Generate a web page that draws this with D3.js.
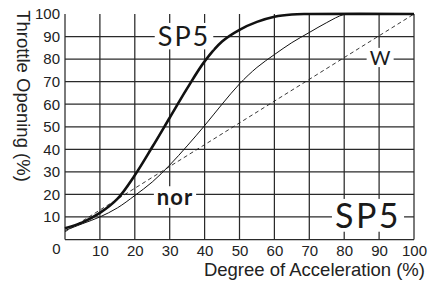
<!DOCTYPE html>
<html><head><meta charset="utf-8">
<script src="https://cdn.jsdelivr.net/npm/d3@7"></script>
<style>body{margin:0;background:#fff}svg{display:block}</style>
</head><body>
<svg id="c" width="438" height="285"></svg>
<script>
const ticks = [10,20,30,40,50,60,70,80,90,100];
const hGrid = [10,20,30,40,50,60,70,80,90];
const sp5X = [0,5,10,15,20,25,30,35,40,45,50,55,60,65,70,100];
const sp5Y = [5,7.6,11.8,18,28.5,41,54,67,79,87.8,93,96.5,98.8,99.8,100,100];
const norX = [0,5,10,15,20,25,30,35,40,45,50,55,60,65,70,75,80,85,100];
const norY = [4,7,10,14,19.5,25.5,33,41.5,50.5,60,69,76.3,82,87.3,91.8,96.2,99.8,100,100];
const wX = [0,100];
const wY = [3.4,100];

const svg = d3.select("#c");
const x = d3.scaleLinear().domain([0,100]).range([65,414]);
const y = d3.scaleLinear().domain([0,100]).range([239.5,14]);
const gc = "#2a2a2a";

// grid
svg.append("g").selectAll("line").data(ticks).join("line")
  .attr("x1",d=>x(d)).attr("x2",d=>x(d)).attr("y1",y(0)).attr("y2",y(100))
  .attr("stroke",gc).attr("stroke-width",1.25);
svg.append("g").selectAll("line").data(hGrid).join("line")
  .attr("x1",x(0)).attr("x2",x(100)).attr("y1",d=>y(d)).attr("y2",d=>y(d))
  .attr("stroke",gc).attr("stroke-width",1.25);
svg.append("line").attr("x1",x(0)).attr("x2",x(0)).attr("y1",y(0)).attr("y2",y(100)).attr("stroke",gc).attr("stroke-width",1.25);
svg.append("line").attr("x1",x(0)).attr("x2",x(100)).attr("y1",y(0)).attr("y2",y(0)).attr("stroke",gc).attr("stroke-width",1.25);

// curves
const line = d3.line().x(d=>x(d[0])).y(d=>y(d[1])).curve(d3.curveCatmullRom.alpha(0.5));
svg.append("path").attr("d",line(wX.map((v,i)=>[v,wY[i]]))).attr("fill","none")
  .attr("stroke","#222").attr("stroke-width",0.9).attr("stroke-dasharray","4,3");
svg.append("path").attr("d",line(norX.map((v,i)=>[v,norY[i]]))).attr("fill","none")
  .attr("stroke","#111").attr("stroke-width",1);
svg.append("path").attr("d",line(sp5X.map((v,i)=>[v,sp5Y[i]]))).attr("fill","none")
  .attr("stroke","#111").attr("stroke-width",2.6);

// axes
const ax = svg.append("g").attr("transform",`translate(0,${y(0)})`)
  .call(d3.axisBottom(x).tickValues(ticks).tickSize(0).tickPadding(5));
const ay = svg.append("g").attr("transform",`translate(${x(0)},0)`)
  .call(d3.axisLeft(y).tickValues(ticks).tickSize(0).tickPadding(5));
[ax,ay].forEach(g=>{g.select(".domain").remove();
  g.selectAll("text").attr("font-family","'Liberation Sans',Arial,sans-serif").attr("font-size",15).attr("fill","#222");});
ax.selectAll("text").attr("dy","0.72em").attr("y",5.5);
svg.append("text").attr("x",56.5).attr("y",253.5).attr("text-anchor","middle")
  .attr("font-family","'Liberation Sans',Arial,sans-serif").attr("font-size",15).attr("fill","#222").text("0");

// axis titles
svg.append("text").attr("x",425).attr("y",276).attr("text-anchor","end")
  .attr("font-family","'Liberation Sans',Arial,sans-serif").attr("font-size",18.5).attr("fill","#222")
  .text("Degree of Acceleration (%)");
svg.append("text").attr("transform","translate(17,96) rotate(90)").attr("text-anchor","middle")
  .attr("font-family","'Liberation Sans',Arial,sans-serif").attr("font-size",18.5).attr("fill","#222")
  .text("Throttle Opening (%)");

// curve labels
function lab(t,cx,by,size,weight,ls,pad){
  const g = svg.append("g");
  const r = g.append("rect").attr("fill","#fff");
  const tx = g.append("text").attr("x",cx).attr("y",by).attr("text-anchor","middle")
    .attr("font-family","Lato,'Open Sans',sans-serif").attr("font-size",size).attr("font-weight",weight)
    .attr("letter-spacing",ls).attr("fill","#1a1a1a").text(t);
  const b = tx.node().getBBox();
  r.attr("x",b.x-pad).attr("y",b.y+b.height*0.12).attr("width",b.width+2*pad).attr("height",b.height*0.8);
}
lab("SP5",184,46,27,"normal",2,3);
lab("SP5",368,228,34,"normal",2.5,3);
lab("W",380,65,20,"normal",0,3);
lab("nor",175,205,22,"bold",1,3);
</script>
</body></html>
